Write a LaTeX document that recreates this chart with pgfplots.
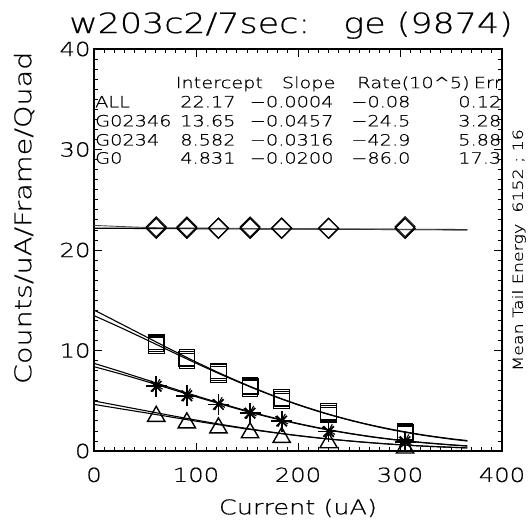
\documentclass[border=0pt]{standalone}
\usepackage{fontspec}
\setmainfont{DejaVu Sans ExtraLight}[FakeStretch=1.25, FakeBold=0.6]
\usepackage{pgfplots}
\pgfplotsset{compat=1.18}
\begin{document}
\begin{tikzpicture}
\useasboundingbox (-94bp,-76bp) rectangle (438bp,451bp);
\begin{axis}[
  at={(0,0)}, anchor=south west,
  scale only axis, width=408bp, height=402bp,
  xmin=0, xmax=400, ymin=0, ymax=40,
  xtick={0,100,200,300,400}, ytick={0,10,20,30,40},
  minor x tick num=9, minor y tick num=9,
  tick align=inside, major tick length=8bp, minor tick length=4bp,
  every tick/.style={black, line width=0.8bp},
  axis line style={line width=1.2bp},
  /pgf/number format/assume math mode=true,
  ticklabel style={font=\fontsize{19.5}{19.5}\selectfont},
  xticklabel style={yshift=-13bp},
  clip=false,
]
% fit lines
\addplot[black, line width=1.3bp] coordinates {(0,22.17) (366,22.02)};
\addplot[black!70, line width=0.9bp, smooth] coordinates {(0,22.45) (50,22.25) (100,22.18) (366,22.0)};
\addplot[black, line width=1.1bp, smooth] coordinates {(0,14.03) (25,12.73) (50,11.42) (75,10.12) (100,8.86) (125,7.67) (150,6.56) (175,5.54) (200,4.63) (225,3.82) (250,3.11) (275,2.51) (300,2.00) (325,1.57) (350,1.22) (366,1.04)};
\addplot[black, line width=1.1bp, smooth] coordinates {(0,13.47) (25,12.33) (50,11.14) (75,9.93) (100,8.74) (125,7.59) (150,6.51) (175,5.50) (200,4.59) (225,3.78) (250,3.08) (275,2.47) (300,1.95) (325,1.53) (350,1.18) (366,0.99)};
\addplot[black, line width=1.1bp, smooth] coordinates {(0,8.72) (25,7.94) (50,7.13) (75,6.30) (100,5.49) (125,4.72) (150,3.99) (175,3.33) (200,2.74) (225,2.22) (250,1.77) (275,1.39) (300,1.08) (325,0.83) (350,0.62) (366,0.51)};
\addplot[black, line width=1.1bp, smooth] coordinates {(0,8.39) (25,7.70) (50,6.96) (75,6.18) (100,5.40) (125,4.65) (150,3.93) (175,3.28) (200,2.70) (225,2.18) (250,1.74) (275,1.36) (300,1.05) (325,0.80) (350,0.60) (366,0.49)};
\addplot[black, line width=1.1bp, smooth] coordinates {(0,4.98) (25,4.50) (50,4.02) (75,3.54) (100,3.08) (125,2.64) (150,2.24) (175,1.87) (200,1.54) (225,1.25) (250,1.01) (275,0.80) (300,0.62) (325,0.48) (350,0.37) (366,0.31)};
\addplot[black, line width=1.1bp, smooth] coordinates {(0,4.64) (25,4.22) (50,3.81) (75,3.39) (100,2.97) (125,2.57) (150,2.19) (175,1.84) (200,1.52) (225,1.24) (250,1.00) (275,0.79) (300,0.62) (325,0.48) (350,0.37) (366,0.31)};
% diamonds
\addplot[only marks, mark=diamond, mark size=10bp, mark options={xscale=1.33, line width=1.3bp, black}] coordinates {(61,22.16) (91,22.16) (122,22.16) (153,22.16) (184,22.16) (230,22.16) (305,22.16)};
\addplot[only marks, mark=diamond, mark size=10bp, mark options={xscale=1.33, line width=0.9bp, black}] coordinates {(61,22.32) (91,22.30) (122,22.18) (153,22.30) (184,22.20) (230,22.16) (305,22.32)};
% squares
\addplot[only marks, mark=square, mark size=7.8bp, mark options={line width=1.3bp, black}] coordinates {(61,10.68) (91,9.15) (122,7.80) (153,6.38) (184,5.17) (230,3.77) (305,1.80)};
\addplot[only marks, mark=square, mark size=7.8bp, mark options={line width=0.9bp, black}] coordinates {(61,10.85) (91,9.32) (122,7.97) (153,6.55) (184,5.34) (230,3.94) (305,1.97)};
\addplot[only marks, mark=square, mark size=7.8bp, mark options={line width=0.9bp, black}] coordinates {(61,10.52) (91,8.98) (122,7.63) (153,6.21) (184,5.00) (230,3.60) (305,1.63)};
% asterisks
\addplot[only marks, mark=+, mark size=10.5bp, mark options={line width=1.7bp, black}] coordinates {(61,6.44) (91,5.50) (122,4.63) (153,3.77) (184,2.98) (230,1.94) (305,0.93)};
\addplot[only marks, mark=x, mark size=7.4bp, mark options={line width=1.7bp, black}] coordinates {(61,6.44) (91,5.50) (122,4.63) (153,3.77) (184,2.98) (230,1.94) (305,0.93)};
\addplot[only marks, mark=x, mark size=7.4bp, mark options={line width=1.1bp, black, rotate=15}] coordinates {(61,6.52) (91,5.58) (122,4.71) (153,3.85) (184,3.06) (230,2.02) (305,1.01)};
% triangles
\addplot[only marks, mark=triangle, mark size=10bp, mark options={line width=1.4bp, black}] coordinates {(61,3.45) (91,2.80) (122,2.30) (153,1.82) (184,1.35) (230,0.82) (305,0.30)};
% title
\node[anchor=base, font=\fontsize{28}{28}\selectfont] at ([yshift=16bp, xshift=-7bp]rel axis cs:0.5,1) {w203c2/7sec:\ \ \ ge (9874)};
% axis titles
\node[font=\fontsize{20.5}{20.5}\selectfont] at ([yshift=-57bp]rel axis cs:0.5,0) {Current (uA)};
\node[rotate=90, font=\fontsize{23}{23}\selectfont] at ([xshift=-70bp]rel axis cs:0,0.58) {Counts/uA/Frame/Quad};
\node[rotate=90, font=\fontsize{14}{14}\selectfont] at ([xshift=17bp]rel axis cs:1,0.5) {Mean Tail Energy\ \ 6152 ; 16};
% table
\begin{scope}[every node/.style={font=\fontsize{15.5}{15.5}\selectfont, inner sep=0pt}]
\node[anchor=base west] at (axis cs:80,36.1) {Intercept};
\node[anchor=base west] at (axis cs:184,36.1) {Slope};
\node[anchor=base west] at (axis cs:258,36.1) {Rate(10\textasciicircum 5)};
\node[anchor=base east] at (axis cs:400,36.1) {Err};
\node[anchor=base west] at (axis cs:1,34.2) {ALL};
\node[anchor=base west] at (axis cs:1,32.3) {G02346};
\node[anchor=base west] at (axis cs:1,30.4) {G0234};
\node[anchor=base west] at (axis cs:1,28.6) {G0};
\node[anchor=base east] at (axis cs:139,34.2) {22.17};
\node[anchor=base east] at (axis cs:139,32.3) {13.65};
\node[anchor=base east] at (axis cs:139,30.4) {8.582};
\node[anchor=base east] at (axis cs:139,28.6) {4.831};
\node[anchor=base east] at (axis cs:235,34.2) {−0.0004};
\node[anchor=base east] at (axis cs:235,32.3) {−0.0457};
\node[anchor=base east] at (axis cs:235,30.4) {−0.0316};
\node[anchor=base east] at (axis cs:235,28.6) {−0.0200};
\node[anchor=base east] at (axis cs:310.4,34.2) {−0.08};
\node[anchor=base east] at (axis cs:310.4,32.3) {−24.5};
\node[anchor=base east] at (axis cs:310.4,30.4) {−42.9};
\node[anchor=base east] at (axis cs:310.4,28.6) {−86.0};
\node[anchor=base east] at (axis cs:399.5,34.2) {0.12};
\node[anchor=base east] at (axis cs:399.5,32.3) {3.28};
\node[anchor=base east] at (axis cs:399.5,30.4) {5.88};
\node[anchor=base east] at (axis cs:399.5,28.6) {17.3};
\end{scope}
\end{axis}
\end{tikzpicture}
\end{document}
